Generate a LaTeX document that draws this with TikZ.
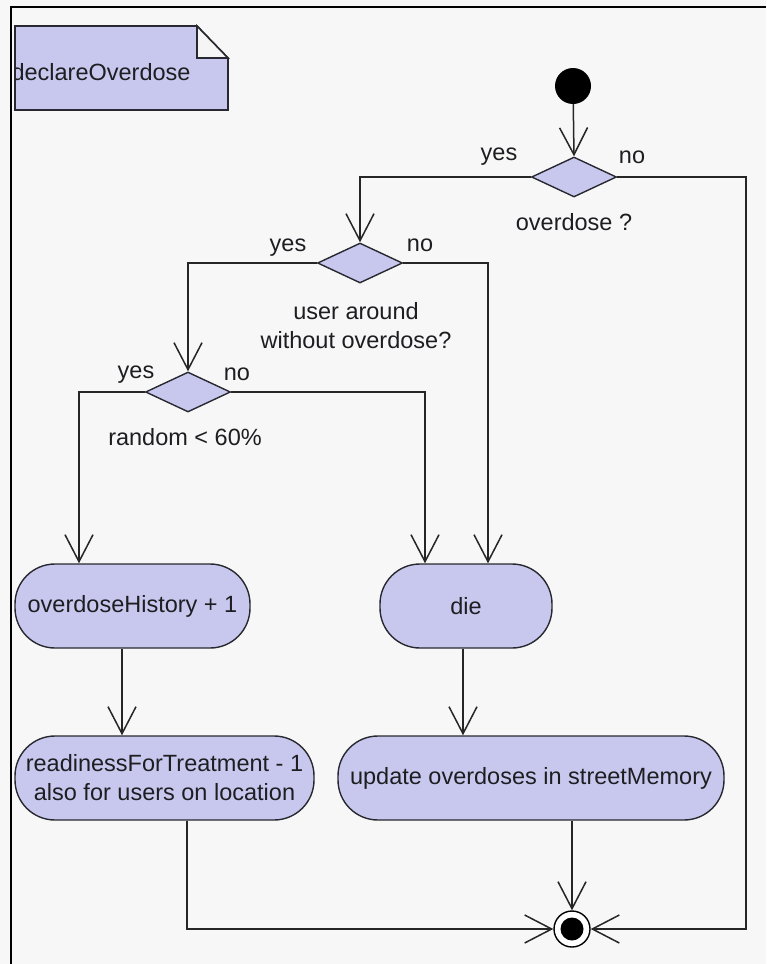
\documentclass[tikz,border=0pt]{standalone}
\usepackage{fontspec}
\setmainfont{Liberation Sans}
\usetikzlibrary{arrows.meta,shapes.geometric}

\definecolor{pagebg}{RGB}{247,247,247}
\definecolor{actfill}{RGB}{200,200,238}
\definecolor{edge}{RGB}{40,40,48}
\definecolor{ink}{RGB}{30,30,34}

\tikzset{
  txt/.style={font=\fontsize{23.5pt}{29pt}\selectfont, text=ink, inner sep=0pt},
  action/.style={txt, draw=edge, line width=1.4pt, fill=actfill,
    rounded corners=40pt, minimum height=84pt, align=center},
  decision/.style={draw=edge, line width=1.4pt, fill=actfill, diamond,
    minimum width=85pt, minimum height=40pt, inner sep=0pt},
  flow/.style={draw=black!85, line width=1.5pt,
    -{Straight Barb[length=27pt,width=28pt,line width=1.5pt]}},
}

\begin{document}
\begin{tikzpicture}[x=1pt,y=-1pt]
  % page and frame
  \fill[pagebg] (0,0) rectangle (766,964);
  \useasboundingbox (0,0) rectangle (766,964);
  \draw[black, line width=2.4pt] (11,964) -- (11,7) -- (766,7);

  % activity name (note with folded corner)
  \draw[edge, line width=1.6pt, fill=actfill]
    (15,26) -- (197,26) -- (228,58) -- (228,110) -- (15,110) -- cycle;
  \draw[edge, line width=1.6pt, fill=white!96!black]
    (197,26) -- (197,58) -- (228,58) -- cycle;
  \begin{scope}
    \clip (16,27) rectangle (227,109);
    \node[txt] (title) at (101,72) {declareOverdose};
  \end{scope}

  % start / end
  \node[circle, fill=black, minimum size=36pt, inner sep=0pt] (start) at (573,86) {};
  \node[circle, draw=black, line width=1.4pt, fill=white, minimum size=36pt, inner sep=0pt] (final) at (572,929) {};
  \fill[black] (final.center) circle (11.5);

  % decisions
  \node[decision] (d1) at (574,177) {};
  \node[decision] (d2) at (360,263) {};
  \node[decision] (d3) at (188,392) {};

  \node[txt] (y1) at (499,157) {yes};
  \node[txt] (n1) at (632,157) {no};
  \node[txt] (q1) at (574,222) {overdose ?};

  \node[txt] (y2) at (288,248) {yes};
  \node[txt] (n2) at (420,245) {no};
  \node[txt, align=center] (q2) at (356,326) {user around\\without overdose?};

  \node[txt] (y3) at (136,375) {yes};
  \node[txt] (n3) at (237,374) {no};
  \node[txt] (q3) at (185,437) {random < 60\%};

  % actions
  \node[action, minimum width=235pt] (hist) at (132.5,606) {overdoseHistory + 1};
  \node[action, minimum width=172pt] (die) at (466,606) {die};
  \node[action, minimum width=299pt] (ready) at (164.5,778)
    {readinessForTreatment - 1\\also for users on location};
  \node[action, minimum width=386pt] (upd) at (531,778) {update overdoses in streetMemory};

  % routing columns
  \coordinate (cHist) at (79,0);
  \coordinate (cDieL) at (425,0);
  \coordinate (cDieR) at (488,0);
  \coordinate (cHistOut) at (122,0);
  \coordinate (cDieOut) at (463,0);
  \coordinate (cReadyOut) at (187,0);
  \coordinate (cRight) at (746,0);

  % connectors
  \draw[flow] (start) -- (d1.north);
  \draw[flow] (d1.west) -| (d2.north);
  \draw[flow] (d1.east) -| (cRight |- final.east) -- (final.east);
  \draw[flow] (d2.west) -| (d3.north);
  \draw[flow] (d2.east) -| (cDieR |- die.north);
  \draw[flow] (d3.west) -| (cHist |- hist.north);
  \draw[flow] (d3.east) -| (cDieL |- die.north);
  \draw[flow] (hist.south -| cHistOut) -- (ready.north -| cHistOut);
  \draw[flow] (die.south -| cDieOut) -- (upd.north -| cDieOut);
  \draw[flow] (ready.south -| cReadyOut) |- (final.west);
  \draw[flow] (upd.south -| final) -- (final.north);
\end{tikzpicture}
\end{document}
